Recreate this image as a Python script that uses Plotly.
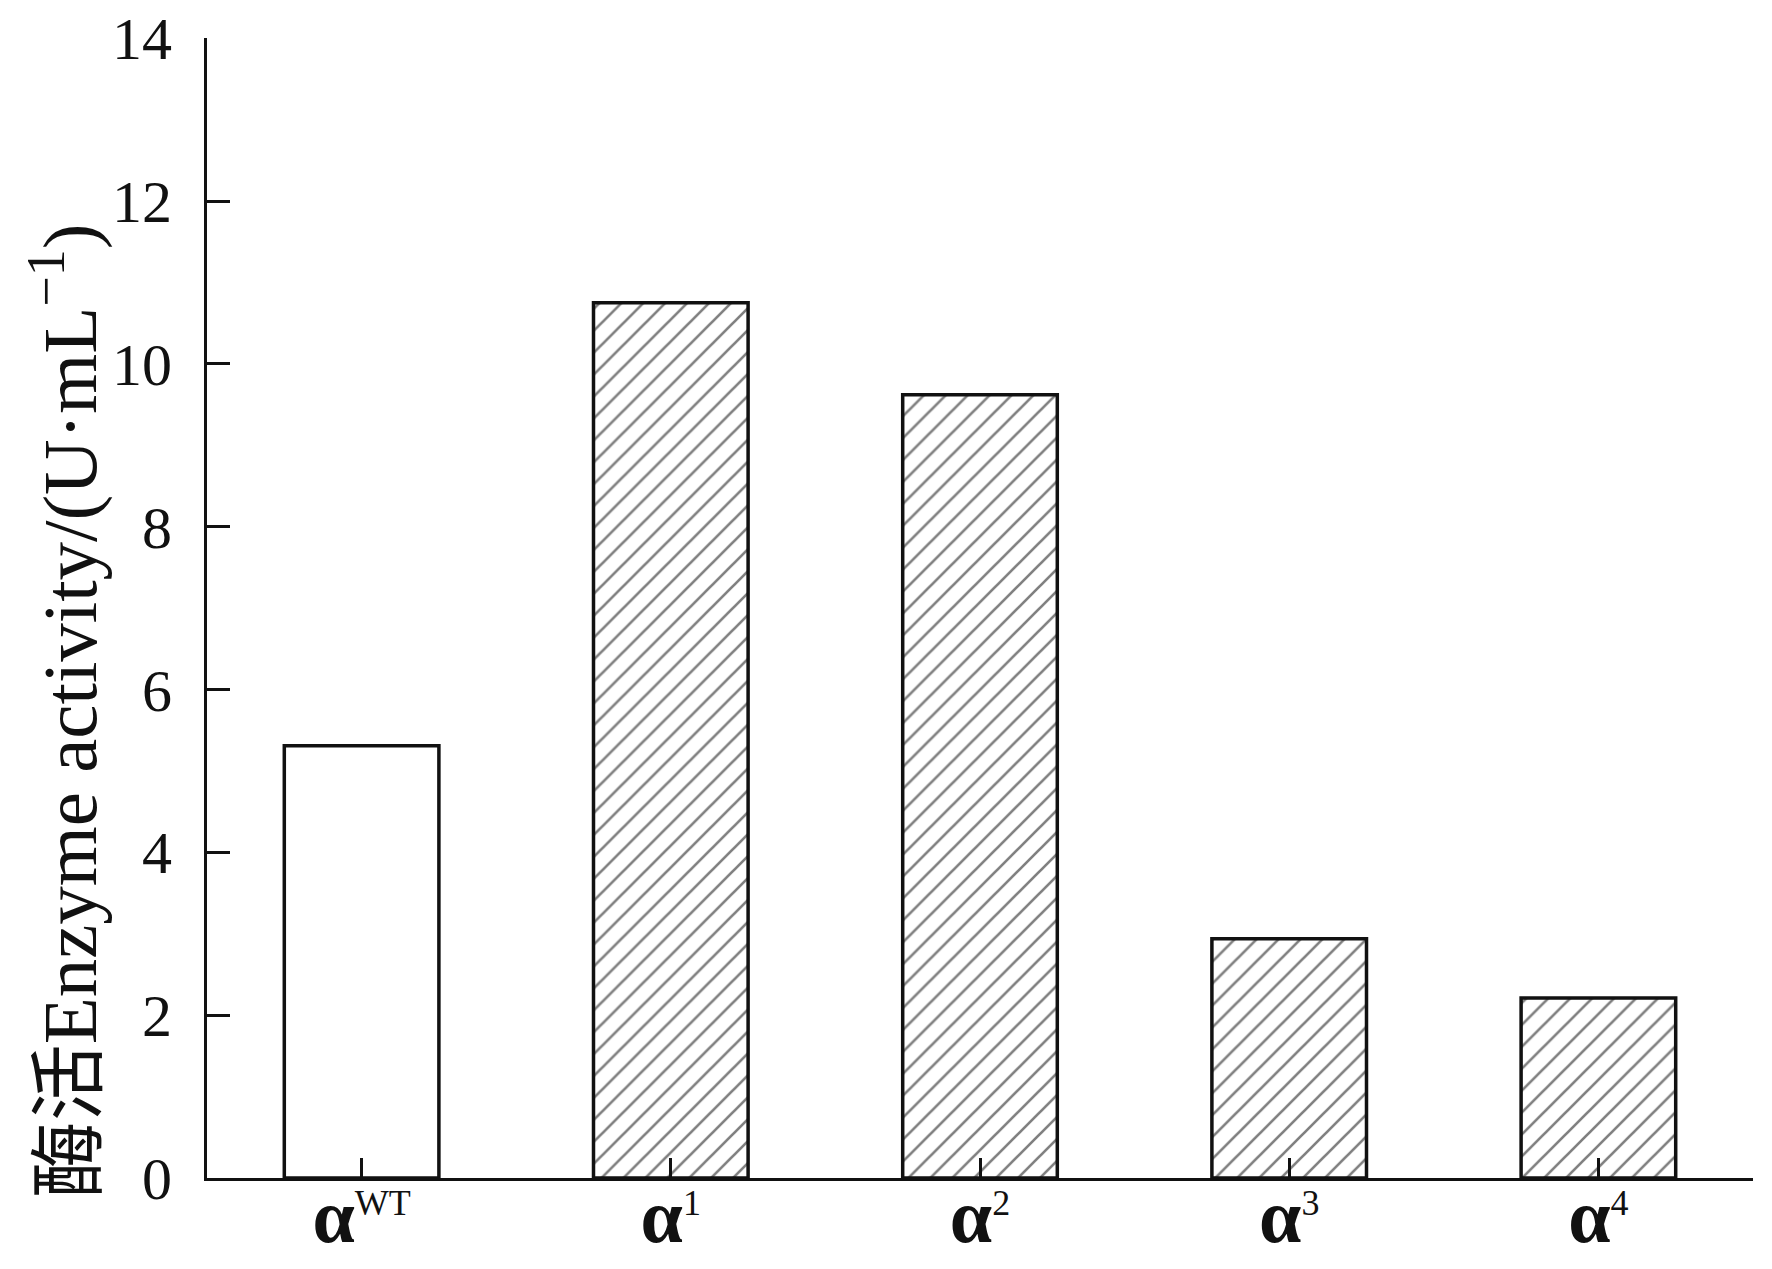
import plotly.graph_objects as go

# -------- DATOS --------
categorias = ["αWT", "α1", "α2", "α3", "α4"]
superindices = ["WT", "1", "2", "3", "4"]
actividad = [5.31, 10.75, 9.62, 2.94, 2.21]
patron = ["", "/", "/", "/", "/"]

FUENTE = "Liberation Serif, Times New Roman, Noto Sans CJK SC"

# etiqueta: alfa en negrita + superindice normal (tamano fijado a mano)
etiquetas = ['<span style="font-size:76px;font-weight:bold">α</span>'
             '<sup><span style="font-size:36px">%s</span></sup>' % s
             for s in superindices]

fig = go.Figure()
fig.add_trace(go.Bar(
    x=categorias,
    y=actividad,
    width=0.5,
    marker=dict(
        color="white",
        line=dict(color="#111111", width=3.5),
        pattern=dict(shape=patron, size=15.5, solidity=0.17, fgcolor="black", bgcolor="white"),
    ),
    showlegend=False,
))

fig.update_layout(
    width=1772, height=1269,
    # la pagina desplaza la figura unos 8 px
    margin=dict(l=199, r=27, t=30, b=99),
    plot_bgcolor="white", paper_bgcolor="white",
    font=dict(family=FUENTE, color="#111111"),
    xaxis=dict(
        range=[-0.5, 4.5], automargin=False,
        tickmode="array", tickvals=categorias, ticktext=etiquetas,
        showline=True, linecolor="#111111", linewidth=3,
        ticks="inside", ticklen=20, tickwidth=3, tickcolor="#111111",
        tickfont=dict(size=64, family=FUENTE),
        ticklabelstandoff=-16, ticklabeloverflow="allow",
        showgrid=False, zeroline=False,
    ),
    yaxis=dict(
        range=[0, 14.002], tickvals=[0, 2, 4, 6, 8, 10, 12, 14], automargin=False,
        showline=True, linecolor="#111111", linewidth=3,
        ticks="inside", ticklen=23, tickwidth=3, tickcolor="#111111",
        tickfont=dict(size=60, family=FUENTE),
        ticklabelstandoff=20, ticklabeloverflow="allow",
        showgrid=False, zeroline=False,
    ),
    annotations=[dict(
        text="酶活Enzyme activity/(U·mL<sup>−1</sup>)",
        xref="paper", yref="paper", x=-0.092, y=0.41,
        textangle=-90, showarrow=False,
        font=dict(size=77, family=FUENTE, color="#111111"),
        xanchor="center", yanchor="middle",
    )],
)

fig.write_html("out.html")
